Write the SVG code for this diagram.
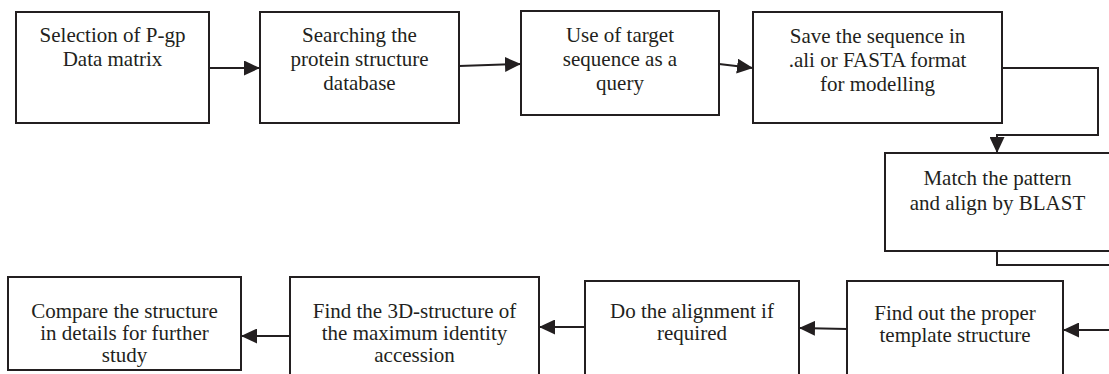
<svg xmlns="http://www.w3.org/2000/svg" width="1109" height="374" viewBox="0 0 1109 374">
<style>
.box{fill:#fff;stroke:#231f20;stroke-width:2}
.t{font-size:21px;fill:#231f20;text-anchor:middle}
.c{fill:none;stroke:#231f20;stroke-width:2}
</style>
<defs>
<marker id="ah" markerUnits="userSpaceOnUse" markerWidth="16" markerHeight="15" refX="16" refY="7.5" orient="auto">
<path d="M0,0 L16,7.5 L0,15 Z" fill="#231f20"/>
</marker>
</defs>
<rect width="1109" height="374" fill="#fff"/>
<g font-family="'Liberation Serif', 'Times New Roman', Tinos, serif">
<g id="n1"><rect class="box" x="16" y="12" width="193" height="111"/>
<text class="t" x="112.5" y="42">Selection of P-gp</text><text class="t" x="112.5" y="66">Data matrix</text></g>
<g id="n2"><rect class="box" x="260" y="12" width="199" height="111"/>
<text class="t" x="359.5" y="42">Searching the</text><text class="t" x="359.5" y="66">protein structure</text><text class="t" x="359.5" y="90">database</text></g>
<g id="n3"><rect class="box" x="521" y="11" width="198" height="104"/>
<text class="t" x="620" y="42">Use of target</text><text class="t" x="620" y="66">sequence as a</text><text class="t" x="620" y="90">query</text></g>
<g id="n4"><rect class="box" x="753" y="12" width="249" height="111"/>
<text class="t" x="877.5" y="43">Save the sequence in</text><text class="t" x="877.5" y="67">.ali or FASTA format</text><text class="t" x="877.5" y="91">for modelling</text></g>
<g id="n5"><rect class="box" x="885" y="153" width="230" height="98"/>
<text class="t" x="997.5" y="185">Match the pattern</text><text class="t" x="997.5" y="210">and align by BLAST</text></g>
<g id="n6"><rect class="box" x="8" y="277" width="233" height="93"/>
<text class="t" x="124.5" y="318">Compare the structure</text><text class="t" x="124.5" y="340">in details for further</text><text class="t" x="124.5" y="362">study</text></g>
<g id="n7"><rect class="box" x="290" y="277" width="249" height="110"/>
<text class="t" x="414.5" y="318">Find the 3D-structure of</text><text class="t" x="414.5" y="340">the maximum identity</text><text class="t" x="414.5" y="362">accession</text></g>
<g id="n8"><rect class="box" x="585" y="281" width="214" height="106"/>
<text class="t" x="692" y="318">Do the alignment if</text><text class="t" x="692" y="340">required</text></g>
<g id="n9"><rect class="box" x="847" y="281" width="216" height="106"/>
<text class="t" x="955" y="320">Find out the proper</text><text class="t" x="955" y="342">template structure</text></g>
</g>
<g id="connectors">
<path class="c" d="M209,68 L260,68" marker-end="url(#ah)"/>
<path class="c" d="M459,66 L521,64" marker-end="url(#ah)"/>
<path class="c" d="M719,64 L753,68" marker-end="url(#ah)"/>
<path class="c" d="M1002,68 L1098,68 L1098,135 L997,135 L997,153" marker-end="url(#ah)"/>
<path class="c" d="M997,251 L997,265 L1112,265"/>
<path class="c" d="M1112,330 L1063,330" marker-end="url(#ah)"/>
<path class="c" d="M847,329 L799,328" marker-end="url(#ah)"/>
<path class="c" d="M585,327 L539,327" marker-end="url(#ah)"/>
<path class="c" d="M290,336 L241,336" marker-end="url(#ah)"/>
</g>
</svg>
